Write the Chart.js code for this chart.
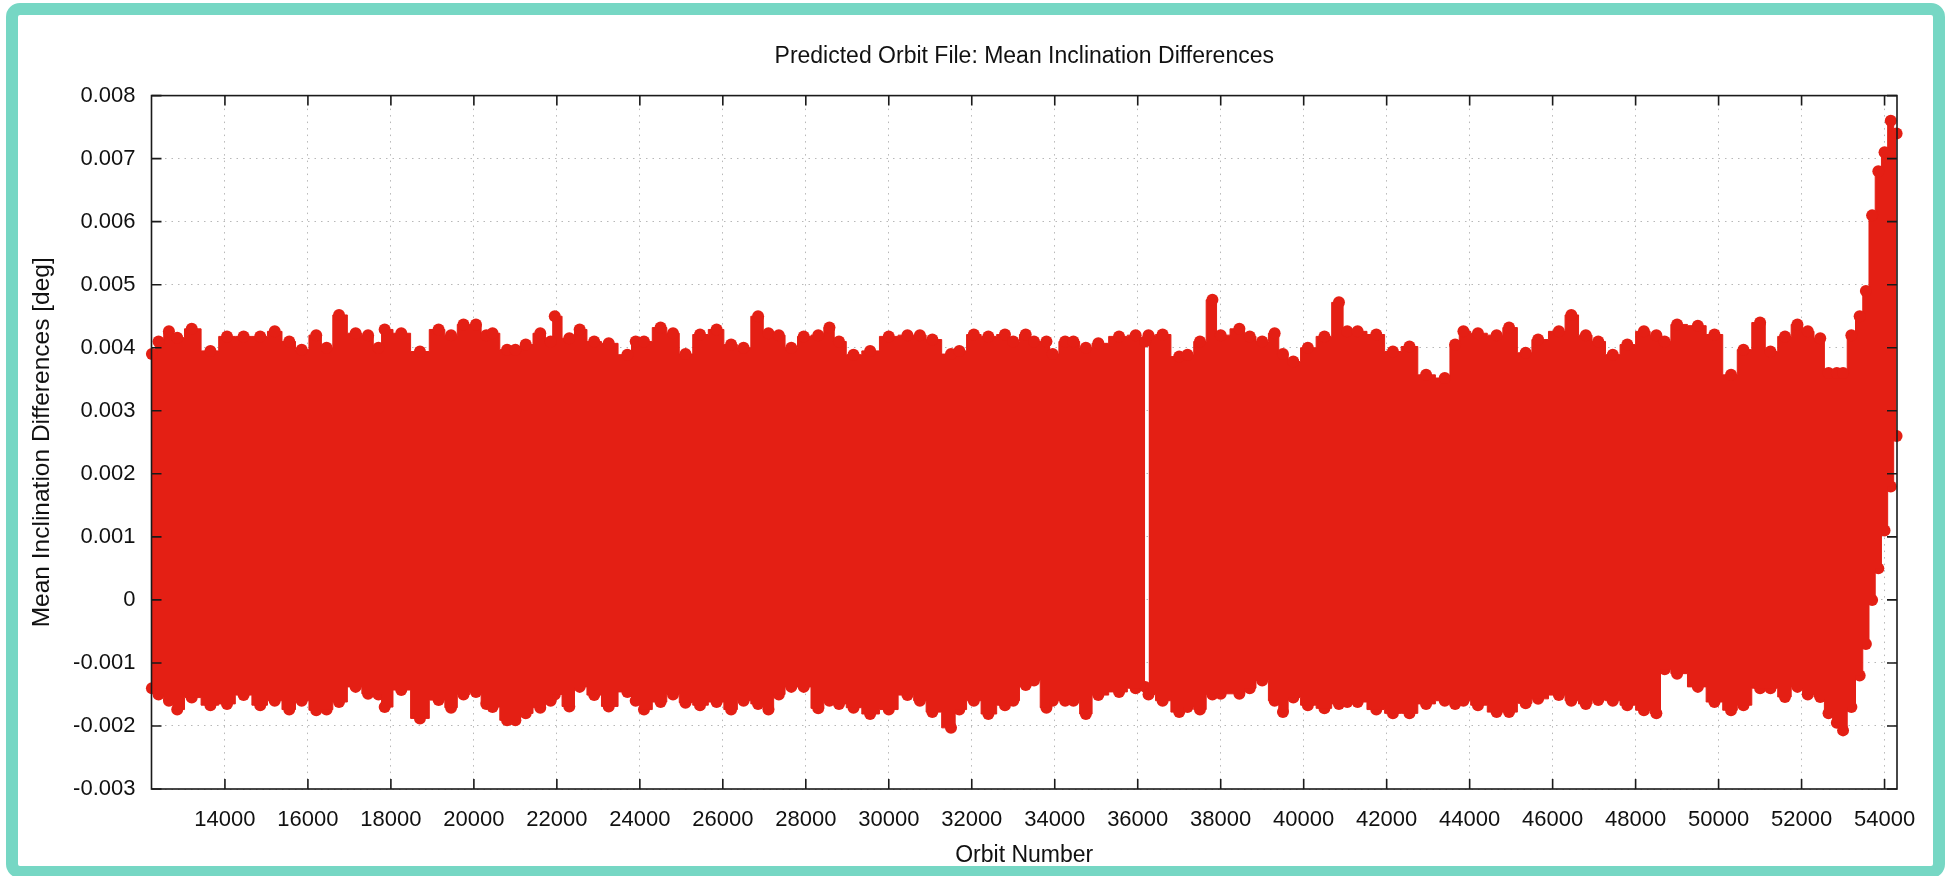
<!DOCTYPE html>
<html>
<head>
<meta charset="utf-8">
<title>Predicted Orbit File: Mean Inclination Differences</title>
<script src="https://cdn.jsdelivr.net/npm/chart.js@4.4.1/dist/chart.umd.min.js"></script>
<style>
  html, body { margin: 0; padding: 0; background: #fff; }
  #wrap { position: relative; width: 1947px; height: 876px; }
  #frame { position: absolute; left: 6px; top: 3px; width: 1939px; height: 875px;
           box-sizing: border-box; border: 12px solid #76d7c4; border-radius: 14px;
           pointer-events: none; }
</style>
</head>
<body>
<div id="wrap">
  <canvas id="myChart"></canvas>
  <div id="frame"></div>
</div>
<script>
// Upper / lower edge of the point cloud (orbit number -> deg)
const orbits = [12240, 12400, 12650, 12850, 13200, 13650, 14050, 14450, 14850, 15200,
  15550, 15850, 16200, 16450, 16750, 17150, 17450, 17700, 17850, 18250,
  18700, 19150, 19450, 19750, 20050, 20300, 20450, 20800, 21000, 21250,
  21600, 21850, 21950, 22300, 22550, 22900, 23250, 23700, 23900, 24100,
  24500, 24800, 25100, 25450, 25850, 26200, 26500, 26850, 27100, 27350,
  27650, 27950, 28300, 28570, 28800, 29150, 29550, 30000, 30450, 30750,
  31050, 31500, 31700, 32050, 32400, 32800, 33000, 33300, 33500, 33800,
  33950, 34250, 34450, 34750, 35050, 35550, 35950, 36180, 36220, 36260,
  36600, 37000, 37200, 37500, 37800, 38000, 38450, 38700, 39000, 39300,
  39500, 39750, 40100, 40500, 40850, 41050, 41300, 41750, 42150, 42550,
  42950, 43400, 43650, 43850, 44200, 44650, 44950, 45350, 45650, 46150,
  46450, 46800, 47100, 47450, 47800, 48200, 48500, 48700, 49000, 49500,
  49900, 50300, 50600, 51000, 51250, 51600, 51900, 52150, 52450, 52650,
  52850, 53000, 53200, 53400, 53550, 53700, 53850, 54000, 54150, 54290];

const upperDiff = [0.0039, 0.0041, 0.00426, 0.00416, 0.0043, 0.00395, 0.00418, 0.00418, 0.00418, 0.00426,
  0.0041, 0.00397, 0.0042, 0.0040, 0.00452, 0.00423, 0.0042, 0.0040, 0.00429, 0.00423,
  0.00394, 0.00429, 0.0042, 0.00437, 0.00437, 0.0042, 0.00423, 0.00397, 0.00397, 0.00405,
  0.00423, 0.0041, 0.0045, 0.00415, 0.00429, 0.0041, 0.00407, 0.00389, 0.0041, 0.0041,
  0.00432, 0.00423, 0.0039, 0.00421, 0.00429, 0.00405, 0.0040, 0.0045, 0.00423, 0.0042,
  0.0040, 0.00418, 0.0042, 0.00432, 0.0041, 0.00389, 0.00395, 0.00418, 0.0042, 0.0042,
  0.00413, 0.0039, 0.00395, 0.00421, 0.00418, 0.00421, 0.0041, 0.00421, 0.0041, 0.0041,
  0.0039, 0.0041, 0.0041, 0.0040, 0.00407, 0.00418, 0.0042, 0.0041, null, 0.0042,
  0.00421, 0.00386, 0.00389, 0.0041, 0.00476, 0.0042, 0.0043, 0.00418, 0.0041, 0.00423,
  0.0039, 0.00378, 0.0040, 0.00418, 0.00472, 0.00426, 0.00426, 0.00421, 0.00394, 0.00402,
  0.00357, 0.00352, 0.00405, 0.00426, 0.00423, 0.0042, 0.00432, 0.00392, 0.00413, 0.00426,
  0.00452, 0.0042, 0.0041, 0.00389, 0.00405, 0.00426, 0.0042, 0.0041, 0.00437, 0.00435,
  0.00421, 0.00357, 0.00397, 0.0044, 0.00394, 0.00418, 0.00437, 0.00426, 0.00415, 0.0036,
  0.0036, 0.0036, 0.0042, 0.0045, 0.0049, 0.0061, 0.0068, 0.0071, 0.0076, 0.0074];

const lowerDiff = [-0.0014, -0.0015, -0.0016, -0.00174, -0.00155, -0.00167, -0.00165, -0.00151, -0.00167, -0.0016,
  -0.00174, -0.0016, -0.00175, -0.00174, -0.00162, -0.00138, -0.00149, -0.0015, -0.0017, -0.00143,
  -0.00188, -0.00159, -0.00171, -0.0015, -0.00146, -0.00165, -0.0017, -0.00191, -0.00191, -0.0018,
  -0.00171, -0.0016, -0.0015, -0.00169, -0.00138, -0.00151, -0.00169, -0.00146, -0.0016, -0.00174,
  -0.00162, -0.0015, -0.00163, -0.00167, -0.00162, -0.00174, -0.0016, -0.00165, -0.00174, -0.0015,
  -0.00138, -0.00138, -0.00172, -0.0016, -0.00165, -0.00171, -0.00181, -0.00174, -0.00151, -0.0016,
  -0.00178, -0.00203, -0.00174, -0.0016, -0.00181, -0.00167, -0.0016, -0.00135, -0.00128, -0.00171,
  -0.0016, -0.0016, -0.0016, -0.00181, -0.00151, -0.00146, -0.0014, -0.00138, null, -0.0015,
  -0.0016, -0.00178, -0.0017, -0.00174, -0.0015, -0.00149, -0.00149, -0.0014, -0.00128, -0.0016,
  -0.00178, -0.00155, -0.00167, -0.00172, -0.00165, -0.00162, -0.00162, -0.00174, -0.0018, -0.0018,
  -0.00165, -0.0016, -0.00165, -0.0016, -0.00167, -0.00178, -0.00178, -0.00164, -0.00157, -0.00151,
  -0.0016, -0.00165, -0.00159, -0.0016, -0.00167, -0.00175, -0.0018, -0.0011, -0.00117, -0.00138,
  -0.00162, -0.00175, -0.00167, -0.0014, -0.0014, -0.00154, -0.00138, -0.0015, -0.00154, -0.0018,
  -0.00195, -0.00207, -0.0017, -0.0012, -0.0007, 0.0000, 0.0005, 0.0011, 0.0018, 0.0026];

const xTicks = [14000, 16000, 18000, 20000, 22000, 24000, 26000, 28000, 30000, 32000, 34000,
  36000, 38000, 40000, 42000, 44000, 46000, 48000, 50000, 52000, 54000];

const red = '#e41f14';
const font = '"Liberation Sans", Arial, Helvetica, sans-serif';

// gnuplot style box: border on all sides + inward ticks
const boxPlugin = {
  id: 'box',
  afterDatasetsDraw(chart) {
    const { ctx, chartArea: a, scales } = chart;
    ctx.save();
    ctx.strokeStyle = '#1a1a1a';
    ctx.lineWidth = 1.6;
    ctx.strokeRect(a.left, a.top, a.right - a.left, a.bottom - a.top);
    ctx.beginPath();
    scales.x.ticks.forEach(t => {
      const px = scales.x.getPixelForValue(t.value);
      ctx.moveTo(px, a.bottom); ctx.lineTo(px, a.bottom - 10);
      ctx.moveTo(px, a.top); ctx.lineTo(px, a.top + 10);
    });
    scales.y.ticks.forEach(t => {
      const py = scales.y.getPixelForValue(t.value);
      ctx.moveTo(a.left, py); ctx.lineTo(a.left + 10, py);
      ctx.moveTo(a.right, py); ctx.lineTo(a.right - 10, py);
    });
    ctx.stroke();
    ctx.restore();
  }
};

const ctx = document.getElementById('myChart').getContext('2d');
const myChart = new Chart(ctx, {
  type: 'line',
  data: {
    datasets: [{
      label: 'upper',
      data: orbits.map((o, i) => ({ x: o, y: upperDiff[i] })),
      borderColor: red,
      backgroundColor: red,
      pointBackgroundColor: red,
      pointBorderWidth: 0,
      pointRadius: 6,
      borderWidth: 1,
      stepped: 'middle',
      fill: '+1',
      clip: false
    }, {
      label: 'lower',
      data: orbits.map((o, i) => ({ x: o, y: lowerDiff[i] })),
      borderColor: red,
      backgroundColor: red,
      pointBackgroundColor: red,
      pointBorderWidth: 0,
      pointRadius: 6,
      borderWidth: 1,
      stepped: 'middle',
      fill: false,
      clip: false
    }]
  },
  options: {
    responsive: true,
    maintainAspectRatio: false,
    animation: false,
    spanGaps: false,
    layout: { padding: { left: 0, right: 50, top: 0, bottom: 0 } },
    plugins: {
      legend: { display: false },
      tooltip: { enabled: false },
      title: {
        display: true,
        fullSize: false,
        text: 'Predicted Orbit File: Mean Inclination Differences',
        color: '#111',
        font: { family: font, size: 23, weight: 'normal' },
        padding: { top: 43, bottom: 25 }
      }
    },
    scales: {
      x: {
        type: 'linear',
        min: 12230,
        max: 54300,
        afterBuildTicks: scale => { scale.ticks = xTicks.map(v => ({ value: v })); },
        afterFit: scale => { scale.height = 87; },
        ticks: {
          color: '#111',
          padding: 18,
          maxRotation: 0,
          font: { family: font, size: 22 },
          callback: v => String(v)
        },
        grid: { color: '#b8b8b8', lineWidth: 1, drawTicks: false },
        border: { display: false, dash: [1.5, 5] },
        title: {
          display: true,
          text: 'Orbit Number',
          color: '#111',
          font: { family: font, size: 23 },
          padding: { top: 0, bottom: 7 }
        }
      },
      y: {
        min: -0.003,
        max: 0.008,
        afterFit: scale => { scale.width = 151.5; },
        ticks: {
          stepSize: 0.001,
          color: '#111',
          padding: 16,
          font: { family: font, size: 22 },
          callback: v => Math.abs(v) < 1e-9 ? '0' : Number(v).toFixed(3)
        },
        grid: { color: '#b8b8b8', lineWidth: 1, drawTicks: false },
        border: { display: false, dash: [1.5, 5] },
        title: {
          display: true,
          text: 'Mean Inclination Differences [deg]',
          color: '#111',
          font: { family: font, size: 24.5 },
          padding: { top: 28, bottom: 0 }
        }
      }
    }
  },
  plugins: [boxPlugin]
});
</script>
</body>
</html>
